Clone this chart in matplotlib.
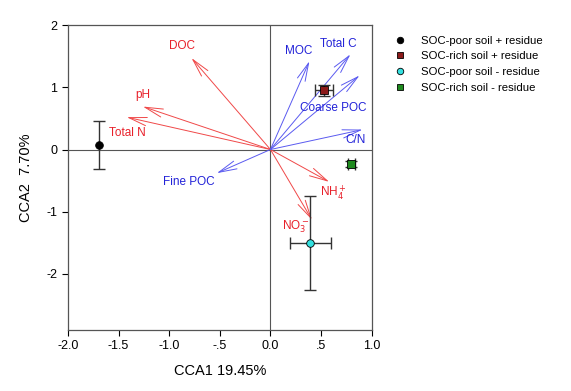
import numpy as np
import matplotlib.pyplot as plt

plt.rcParams['font.family'] = ['Liberation Sans', 'DejaVu Sans']

# Site scores (treatments)
treat_names = ['SOC-poor soil + residue', 'SOC-rich soil + residue',
               'SOC-poor soil - residue', 'SOC-rich soil - residue']
treat_x = [-1.695, 0.525, 0.395, 0.80]
treat_y = [0.07, 0.95, -1.50, -0.23]
treat_xerr = [0.0, 0.09, 0.20, 0.03]
treat_yerr = [0.39, 0.09, 0.76, 0.05]
treat_marker = ['o', 's', 'o', 's']
treat_color = ['black', '#8b1a1a', '#33e0e0', '#1f8a1f']

# Environmental vectors
red_names = ['DOC', 'pH', 'Total N', r'NH$_4^+$', r'NO$_3^-$']
red_x = [-0.78, -1.26, -1.42, 0.58, 0.41]
red_y = [1.47, 0.69, 0.52, -0.52, -1.13]
red_lx = [-0.87, -1.26, -1.41, 0.62, 0.25]
red_ly = [1.66, 0.88, 0.27, -0.70, -1.24]

blue_names = ['MOC', 'Total C', 'Coarse POC', 'C/N', 'Fine POC']
blue_x = [0.385, 0.79, 0.88, 0.91, -0.53]
blue_y = [1.42, 1.53, 1.19, 0.32, -0.38]
blue_lx = [0.28, 0.67, 0.62, 0.84, -0.81]
blue_ly = [1.59, 1.70, 0.66, 0.15, -0.53]

fig = plt.figure(figsize=(5.71, 3.91), dpi=100)
ax = fig.add_axes([0.119, 0.156, 0.532, 0.780])

ax.axhline(0, color='#555555', lw=0.8, zorder=1)
ax.axvline(0, color='#555555', lw=0.8, zorder=1)

head = '->,head_length=1.3,head_width=0.3'
for x, y in zip(red_x, red_y):
    ax.annotate('', xy=(x, y), xytext=(0, 0),
                arrowprops=dict(arrowstyle=head, color='#f04848', lw=0.7,
                                shrinkA=0, shrinkB=0))
for x, y in zip(blue_x, blue_y):
    ax.annotate('', xy=(x, y), xytext=(0, 0),
                arrowprops=dict(arrowstyle=head, color='#5a5af0', lw=0.7,
                                shrinkA=0, shrinkB=0))

for n, x, y in zip(red_names, red_lx, red_ly):
    ax.text(x, y, n, color='#e8202a', fontsize=8.5, ha='center', va='center')
for n, x, y in zip(blue_names, blue_lx, blue_ly):
    ax.text(x, y, n, color='#2323d8', fontsize=8.5, ha='center', va='center')

for i in range(len(treat_names)):
    ax.errorbar(treat_x[i], treat_y[i],
                xerr=treat_xerr[i] if treat_xerr[i] > 0 else None,
                yerr=treat_yerr[i], fmt='none', ecolor='#333333',
                elinewidth=1, capsize=4, capthick=1, zorder=3)
    ax.plot(treat_x[i], treat_y[i], marker=treat_marker[i], ls='none',
            color=treat_color[i], mec='black', mew=0.6, ms=5.5,
            label=treat_names[i], zorder=4)

ax.set_xlim(-2.0, 1.0)
ax.set_ylim(-2.9, 2.0)
ax.set_xticks([-2.0, -1.5, -1.0, -0.5, 0.0, 0.5, 1.0])
ax.set_xticklabels(['-2.0', '-1.5', '-1.0', '-.5', '0.0', '.5', '1.0'])
ax.set_yticks([2, 1, 0, -1, -2])
ax.set_yticklabels(['2', '1', '0', '-1', '-2'])
ax.tick_params(direction='out', length=4, labelsize=9, top=False, right=False)
for s in ax.spines.values():
    s.set_color('#555555')
    s.set_linewidth(0.9)

ax.set_xlabel('CCA1 19.45%', fontsize=10.5, labelpad=8)
ax.set_ylabel('CCA2  7.70%', fontsize=10.5, labelpad=10)

fig.legend(loc='upper left', bbox_to_anchor=(0.662, 0.935), frameon=False,
           fontsize=8.2, handletextpad=0.9, labelspacing=0.5, markerscale=0.85)

fig.savefig('out.png', dpi=100)
